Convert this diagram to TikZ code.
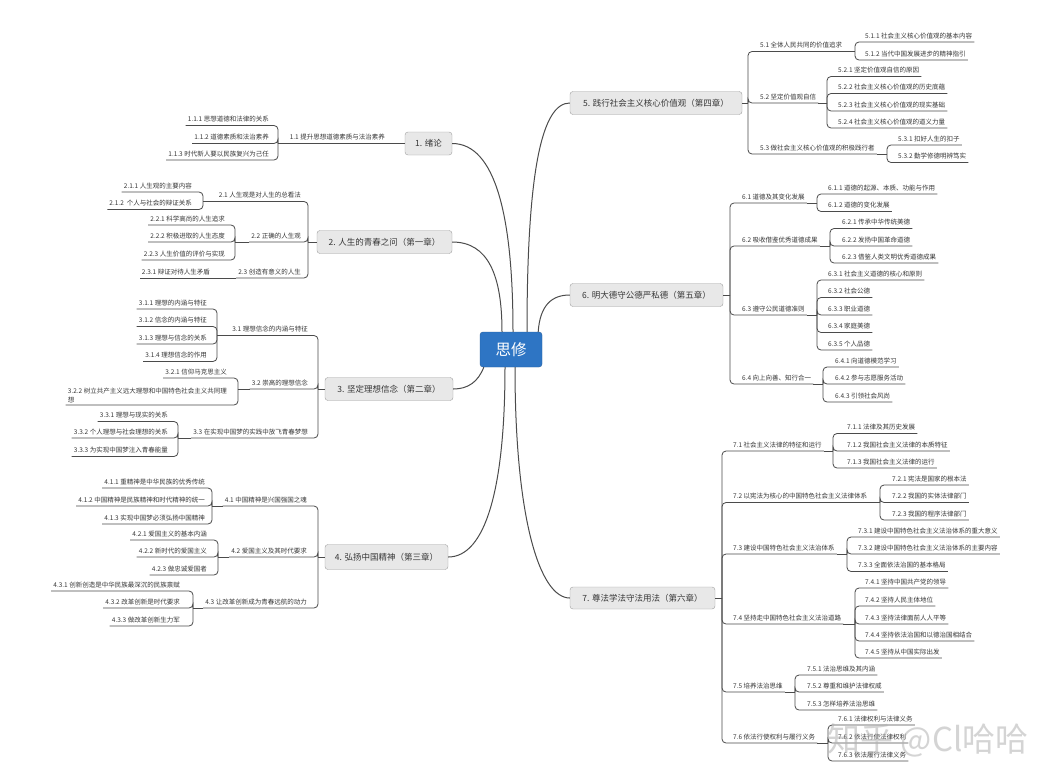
\documentclass[tikz,border=0pt]{standalone}
\usepackage{fontspec}
\newfontfamily\cjk{Noto Sans CJK SC}
\definecolor{rootblue}{RGB}{46,117,196}
\definecolor{chapfill}{RGB}{232,232,232}
\definecolor{chapline}{RGB}{160,160,160}
\definecolor{linegray}{RGB}{75,75,75}
\definecolor{txtgray}{RGB}{55,55,55}
\tikzset{
  root/.style={draw=rootblue!80!black, fill=rootblue, rounded corners=3pt, text=white,
    font=\cjk\fontsize{15.5}{16}\selectfont, minimum width=62, minimum height=35},
  chap/.style={draw=chapline, fill=chapfill, rounded corners=3pt, text=txtgray,
    font=\cjk\fontsize{8.5}{10}\selectfont, minimum height=23},
  sub/.style={font=\cjk\fontsize{6.5}{8}\selectfont, text=txtgray, inner xsep=2pt,
    inner ysep=2.4pt, text height=5.4pt, text depth=1.2pt},
  subL/.style={sub, anchor=south east},
  subR/.style={sub, anchor=south west},
  subwrap/.style={font=\cjk\fontsize{6.5}{9}\selectfont, text=txtgray, inner xsep=2pt,
    inner ysep=2.4pt, align=left},
  link/.style={draw=linegray, line width=0.8pt, rounded corners=4pt},
  trunk/.style={draw=linegray, line width=1pt},
  wmark/.style={font=\cjk\fontsize{33}{33}\selectfont, text=black!30, text opacity=0.55},
}
\begin{document}
\begin{tikzpicture}[x=1pt, y=-1pt]
  % --- 画布 ---
  \fill[white] (0,0) rectangle (1055,784);
  \useasboundingbox (0,0) rectangle (1055,784);

  % --- 中心主题 ---
  \node[root] (root) at (511,349.5) {思修};

  % --- 1. 绪论 ---
  \node[chap, minimum width=47] (c1) at (428.5,143.5) {1. 绪论};
  \node[subL] (b11) at (387,143.5) {1.1 提升思想道德素质与法治素养};
  \coordinate (s11) at (278,143.5);
  \node[subL] (l111) at (271,125.5) {1.1.1 思想道德和法律的关系};
  \node[subL] (l112) at (271,143.5) {1.1.2 道德素质和法治素养};
  \node[subL] (l113) at (271,160) {1.1.3 时代新人要以民族复兴为己任};
  \draw[link] (c1.west) -- (b11.south west) -- (s11);
  \foreach \n in {l111,l112,l113} \draw[link] (s11) |- (\n.south west);

  % --- 2. 人生的青春之问 ---
  \node[chap, minimum width=135] (c2) at (384.5,242) {2. 人生的青春之问（第一章）};
  \coordinate (s2) at (308,242);
  \node[subL] (b21) at (303,201.5) {2.1 人生观是对人生的总看法};
  \node[subL] (b22) at (303,242) {2.2 正确的人生观};
  \node[subL] (b23) at (303,278) {2.3 创造有意义的人生};
  \draw[link] (c2.west) -- (s2);
  \foreach \n in {b21,b22,b23} \draw[link] (s2) |- (\n.south west);
  % 2.1
  \coordinate (s21) at (203,201.5);
  \node[subL] (l211) at (194,192) {2.1.1 人生观的主要内容};
  \node[subL] (l212) at (194,209.5) {2.1.2\ \ 个人与社会的辩证关系};
  \draw[link] (b21.south west) -- (s21);
  \foreach \n in {l211,l212} \draw[link] (s21) |- (\n.south west);
  % 2.2
  \coordinate (s22) at (235,242);
  \node[subL] (l221) at (227,225) {2.2.1 科学高尚的人生追求};
  \node[subL] (l222) at (227,242) {2.2.2 积极进取的人生态度};
  \node[subL] (l223) at (227,260) {2.2.3 人生价值的评价与实现};
  \draw[link] (b22.south west) -- (s22);
  \foreach \n in {l221,l222,l223} \draw[link] (s22) |- (\n.south west);
  % 2.3
  \node[subL] (l231) at (212,278) {2.3.1 辩证对待人生矛盾};
  \draw[link] (b23.south west) -- (l231.south west);

  % --- 3. 坚定理想信念 ---
  \node[chap, minimum width=128] (c3) at (389,389) {3. 坚定理想信念（第二章）};
  \coordinate (s3) at (318,389);
  \node[subL] (b31) at (310,335.5) {3.1 理想信念的内涵与特征};
  \node[subL] (b32) at (310,389) {3.2 崇高的理想信念};
  \node[subL] (b33) at (310,438) {3.3 在实现中国梦的实践中放飞青春梦想};
  \draw[link] (c3.west) -- (s3);
  \foreach \n in {b31,b32,b33} \draw[link] (s3) |- (\n.south west);
  % 3.1
  \coordinate (s31) at (217,335.5);
  \node[subL] (l311) at (209,309) {3.1.1 理想的内涵与特征};
  \node[subL] (l312) at (209,326.5) {3.1.2 信念的内涵与特征};
  \node[subL] (l313) at (209,344) {3.1.3 理想与信念的关系};
  \node[subL] (l314) at (209,361.5) {3.1.4 理想信念的作用};
  \draw[link] (b31.south west) -- (s31);
  \foreach \n in {l311,l312,l313,l314} \draw[link] (s31) |- (\n.south west);
  % 3.2
  \coordinate (s32) at (238,389);
  \node[subL] (l321) at (229,378) {3.2.1 信仰马克思主义};
  \node[subwrap, anchor=south east] (l322) at (229,405)
    {3.2.2 树立共产主义远大理想和中国特色社会主义共同理\\想};
  \draw[link] (b32.south west) -- (s32);
  \foreach \n in {l321,l322} \draw[link] (s32) |- (\n.south west);
  % 3.3
  \coordinate (s33) at (178,438);
  \node[subL] (l331) at (170,421.5) {3.3.1 理想与现实的关系};
  \node[subL] (l332) at (170,438) {3.3.2 个人理想与社会理想的关系};
  \node[subL] (l333) at (170,456.5) {3.3.3 为实现中国梦注入青春能量};
  \draw[link] (b33.south west) -- (s33);
  \foreach \n in {l331,l332,l333} \draw[link] (s33) |- (\n.south west);

  % --- 4. 弘扬中国精神 ---
  \node[chap, minimum width=123, minimum height=25] (c4) at (386.5,557) {4. 弘扬中国精神（第三章）};
  \coordinate (s4) at (318,557);
  \node[subL] (b41) at (309,506) {4.1 中国精神是兴国强国之魂};
  \node[subL] (b42) at (309,557) {4.2 爱国主义及其时代要求};
  \node[subL] (b43) at (309,608) {4.3 让改革创新成为青春远航的动力};
  \draw[link] (c4.west) -- (s4);
  \foreach \n in {b41,b42,b43} \draw[link] (s4) |- (\n.south west);
  % 4.1
  \coordinate (s41) at (212,506);
  \node[subL] (l411) at (207,488) {4.1.1 重精神是中华民族的优秀传统};
  \node[subL] (l412) at (207,506) {4.1.2 中国精神是民族精神和时代精神的统一};
  \node[subL] (l413) at (207,524) {4.1.3 实现中国梦必须弘扬中国精神};
  \draw[link] (b41.south west) -- (s41);
  \foreach \n in {l411,l412,l413} \draw[link] (s41) |- (\n.south west);
  % 4.2
  \coordinate (s42) at (218,557);
  \node[subL] (l421) at (209,540) {4.2.1 爱国主义的基本内涵};
  \node[subL] (l422) at (209,557) {4.2.2 新时代的爱国主义};
  \node[subL] (l423) at (209,575) {4.2.3 做忠诚爱国者};
  \draw[link] (b42.south west) -- (s42);
  \foreach \n in {l421,l422,l423} \draw[link] (s42) |- (\n.south west);
  % 4.3
  \coordinate (s43) at (193,608);
  \node[subL] (l431) at (182,591) {4.3.1 创新创造是中华民族最深沉的民族禀赋};
  \node[subL] (l432) at (182,608) {4.3.2 改革创新是时代要求};
  \node[subL] (l433) at (182,626) {4.3.3 做改革创新生力军};
  \draw[link] (b43.south west) -- (s43);
  \foreach \n in {l431,l432,l433} \draw[link] (s43) |- (\n.south west);

  % --- 5. 践行社会主义核心价值观 ---
  \node[chap, minimum width=172] (c5) at (656,103) {5. 践行社会主义核心价值观（第四章）};
  \coordinate (s5) at (748,103);
  \node[subR] (b51) at (758,51.5) {5.1 全体人民共同的价值追求};
  \node[subR] (b52) at (758,103) {5.2 坚定价值观自信};
  \node[subR] (b53) at (758,154) {5.3 做社会主义核心价值观的积极践行者};
  \draw[link] (c5.east) -- (s5);
  \foreach \n in {b51,b52,b53} \draw[link] (s5) |- (\n.south east);
  % 5.1
  \coordinate (s51) at (855,51.5);
  \node[subR] (l511) at (863,42) {5.1.1 社会主义核心价值观的基本内容};
  \node[subR] (l512) at (863,60) {5.1.2 当代中国发展进步的精神指引};
  \draw[link] (b51.south east) -- (s51);
  \foreach \n in {l511,l512} \draw[link] (s51) |- (\n.south east);
  % 5.2
  \coordinate (s52) at (827,103);
  \node[subR] (l521) at (836,76.5) {5.2.1 坚定价值观自信的原因};
  \node[subR] (l522) at (836,93.5) {5.2.2 社会主义核心价值观的历史底蕴};
  \node[subR] (l523) at (836,111) {5.2.3 社会主义核心价值观的现实基础};
  \node[subR] (l524) at (836,128) {5.2.4 社会主义核心价值观的道义力量};
  \draw[link] (b52.south east) -- (s52);
  \foreach \n in {l521,l522,l523,l524} \draw[link] (s52) |- (\n.south east);
  % 5.3
  \coordinate (s53) at (887,154);
  \node[subR] (l531) at (896,145) {5.3.1 扣好人生的扣子};
  \node[subR] (l532) at (896,162.5) {5.3.2 勤学修德明辨笃实};
  \draw[link] (b53.south east) -- (s53);
  \foreach \n in {l531,l532} \draw[link] (s53) |- (\n.south east);

  % --- 6. 明大德守公德严私德 ---
  \node[chap, minimum width=153] (c6) at (646.5,295) {6. 明大德守公德严私德（第五章）};
  \coordinate (s6) at (730,295);
  \node[subR] (b61) at (740,203) {6.1 道德及其变化发展};
  \node[subR] (b62) at (740,246) {6.2 吸收借鉴优秀道德成果};
  \node[subR] (b63) at (740,315) {6.3 遵守公民道德准则};
  \node[subR] (b64) at (740,384) {6.4 向上向善、知行合一};
  \draw[link] (c6.east) -- (s6);
  \foreach \n in {b61,b62,b63,b64} \draw[link] (s6) |- (\n.south east);
  % 6.1
  \coordinate (s61) at (817,203);
  \node[subR] (l611) at (826,194) {6.1.1 道德的起源、本质、功能与作用};
  \node[subR] (l612) at (826,211.5) {6.1.2 道德的变化发展};
  \draw[link] (b61.south east) -- (s61);
  \foreach \n in {l611,l612} \draw[link] (s61) |- (\n.south east);
  % 6.2
  \coordinate (s62) at (830,246);
  \node[subR] (l621) at (840,228.5) {6.2.1 传承中华传统美德};
  \node[subR] (l622) at (840,246) {6.2.2 发扬中国革命道德};
  \node[subR] (l623) at (840,263) {6.2.3 借鉴人类文明优秀道德成果};
  \draw[link] (b62.south east) -- (s62);
  \foreach \n in {l621,l622,l623} \draw[link] (s62) |- (\n.south east);
  % 6.3
  \coordinate (s63) at (817,315);
  \node[subR] (l631) at (826,280) {6.3.1 社会主义道德的核心和原则};
  \node[subR] (l632) at (826,297.5) {6.3.2 社会公德};
  \node[subR] (l633) at (826,315) {6.3.3 职业道德};
  \node[subR] (l634) at (826,332.5) {6.3.4 家庭美德};
  \node[subR] (l635) at (826,350) {6.3.5 个人品德};
  \draw[link] (b63.south east) -- (s63);
  \foreach \n in {l631,l632,l633,l634,l635} \draw[link] (s63) |- (\n.south east);
  % 6.4
  \coordinate (s64) at (823,384);
  \node[subR] (l641) at (833,367) {6.4.1 向道德模范学习};
  \node[subR] (l642) at (833,384) {6.4.2 参与志愿服务活动};
  \node[subR] (l643) at (833,402) {6.4.3 引领社会风尚};
  \draw[link] (b64.south east) -- (s64);
  \foreach \n in {l641,l642,l643} \draw[link] (s64) |- (\n.south east);

  % --- 7. 尊法学法守法用法 ---
  \node[chap, minimum width=145, minimum height=22] (c7) at (642.5,598) {7. 尊法学法守法用法（第六章）};
  \coordinate (s7) at (722,598);
  \node[subR] (b71) at (731,451) {7.1 社会主义法律的特征和运行};
  \node[subR] (b72) at (731,502.5) {7.2 以宪法为核心的中国特色社会主义法律体系};
  \node[subR] (b73) at (731,554) {7.3 建设中国特色社会主义法治体系};
  \node[subR] (b74) at (731,624) {7.4 坚持走中国特色社会主义法治道路};
  \node[subR] (b75) at (731,692) {7.5 培养法治思维};
  \node[subR] (b76) at (731,743) {7.6 依法行使权利与履行义务};
  \draw[link] (c7.east) -- (s7);
  \foreach \n in {b71,b72,b73,b74,b75,b76} \draw[link] (s7) |- (\n.south east);
  % 7.1
  \coordinate (s71) at (833,451);
  \node[subR] (l711) at (845,433.5) {7.1.1 法律及其历史发展};
  \node[subR] (l712) at (845,451) {7.1.2 我国社会主义法律的本质特征};
  \node[subR] (l713) at (845,468) {7.1.3 我国社会主义法律的运行};
  \draw[link] (b71.south east) -- (s71);
  \foreach \n in {l711,l712,l713} \draw[link] (s71) |- (\n.south east);
  % 7.2
  \coordinate (s72) at (880,502.5);
  \node[subR] (l721) at (890,485) {7.2.1 宪法是国家的根本法};
  \node[subR] (l722) at (890,502.5) {7.2.2 我国的实体法律部门};
  \node[subR] (l723) at (890,520) {7.2.3 我国的程序法律部门};
  \draw[link] (b72.south east) -- (s72);
  \foreach \n in {l721,l722,l723} \draw[link] (s72) |- (\n.south east);
  % 7.3
  \coordinate (s73) at (847,554);
  \node[subR] (l731) at (856,537) {7.3.1 建设中国特色社会主义法治体系的重大意义};
  \node[subR] (l732) at (856,554) {7.3.2 建设中国特色社会主义法治体系的主要内容};
  \node[subR] (l733) at (856,571.5) {7.3.3 全面依法治国的基本格局};
  \draw[link] (b73.south east) -- (s73);
  \foreach \n in {l731,l732,l733} \draw[link] (s73) |- (\n.south east);
  % 7.4
  \coordinate (s74) at (855,624);
  \node[subR] (l741) at (863,588) {7.4.1 坚持中国共产党的领导};
  \node[subR] (l742) at (863,606) {7.4.2 坚持人民主体地位};
  \node[subR] (l743) at (863,624) {7.4.3 坚持法律面前人人平等};
  \node[subR] (l744) at (863,641) {7.4.4 坚持依法治国和以德治国相结合};
  \node[subR] (l745) at (863,658) {7.4.5 坚持从中国实际出发};
  \draw[link] (b74.south east) -- (s74);
  \foreach \n in {l741,l742,l743,l744,l745} \draw[link] (s74) |- (\n.south east);
  % 7.5
  \coordinate (s75) at (795,692);
  \node[subR] (l751) at (805,675) {7.5.1 法治思维及其内涵};
  \node[subR] (l752) at (805,692) {7.5.2 尊重和维护法律权威};
  \node[subR] (l753) at (805,710) {7.5.3 怎样培养法治思维};
  \draw[link] (b75.south east) -- (s75);
  \foreach \n in {l751,l752,l753} \draw[link] (s75) |- (\n.south east);
  % 7.6
  \coordinate (s76) at (828,743);
  \node[subR] (l761) at (836,725) {7.6.1 法律权利与法律义务};
  \node[subR] (l762) at (836,743) {7.6.2 依法行使法律权利};
  \node[subR] (l763) at (836,761) {7.6.3 依法履行法律义务};
  \draw[link] (b76.south east) -- (s76);
  \foreach \n in {l761,l762,l763} \draw[link] (s76) |- (\n.south east);

  % --- 中心到各章的曲线 ---
  \draw[trunk] ([xshift=2]root.north) .. controls (513,215) and (495,143.5) .. (c1.east);
  \draw[trunk] ([xshift=-9]root.north) .. controls (502,275) and (488,242) .. (c2.east);
  \draw[trunk] ([xshift=4]root.south west) .. controls (478,382) and (468,389) .. (c3.east);
  \draw[trunk] ([xshift=-6]root.south) .. controls (505,490) and (485,557) .. (c4.east);
  \draw[trunk] ([xshift=16]root.north) .. controls (527,170) and (542,103) .. (c5.west);
  \draw[trunk] ([xshift=-4]root.north east) .. controls (540,305) and (552,295) .. (c6.west);
  \draw[trunk] ([xshift=4]root.south) .. controls (515,520) and (540,598) .. (c7.west);

  % --- 水印 ---
  \node[wmark, anchor=west] (wm) at (824,740) {知乎 @Cl哈哈};
\end{tikzpicture}
\end{document}
